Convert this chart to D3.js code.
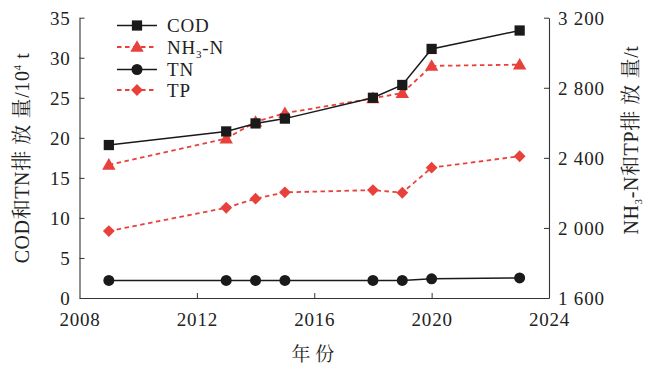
<!DOCTYPE html>
<html><head><meta charset="utf-8">
<script src="https://cdn.jsdelivr.net/npm/d3@7"></script>
<style>
html,body{margin:0;padding:0;background:#fff;}
svg text{font-family:'Liberation Serif','DejaVu Serif','Noto Serif CJK SC','Noto Sans CJK SC',serif !important;fill:#222;}
</style></head>
<body><svg id="c" width="651" height="367"></svg>
<script>
const years = [2009, 2013, 2014, 2015, 2018, 2019, 2020, 2023];
const cod = [19.1, 20.8, 21.8, 22.4, 25.0, 26.6, 31.1, 33.4];
const tn = [2.2, 2.2, 2.2, 2.2, 2.2, 2.2, 2.4, 2.5];
const nh3n = [2360, 2510, 2605, 2655, 2740, 2770, 2925, 2932];
const tp = [1982, 2115, 2167, 2203, 2216, 2201, 2344, 2409];
const xTicks = [2008, 2012, 2016, 2020, 2024];
const yLeftTicks = [0, 5, 10, 15, 20, 25, 30, 35];
const yRightTicks = [1600, 2000, 2400, 2800, 3200];
const yRightLabels = ["1 600", "2 000", "2 400", "2 800", "3 200"];

const svg = d3.select("#c");
const L = 79.5, R = 549, T = 17.7, B = 298;
const x = d3.scaleLinear().domain([2008, 2024]).range([L, R]);
const yL = d3.scaleLinear().domain([0, 35]).range([B, T]);
const yR = d3.scaleLinear().domain([1600, 3200]).range([B, T]);
const red = "#e8413c", blk = "#1a1a1a", axc = "#333";
const fs = 19;

// axes
const gx = svg.append("g").attr("transform", `translate(0,${B})`)
  .call(d3.axisBottom(x).tickValues(xTicks).tickFormat(d3.format("d")).tickSizeInner(-5).tickSizeOuter(0).tickPadding(15));
const gl = svg.append("g").attr("transform", `translate(${L},0)`)
  .call(d3.axisLeft(yL).tickValues(yLeftTicks).tickSizeInner(-5).tickSizeOuter(0).tickPadding(9));
const gr = svg.append("g").attr("transform", `translate(${R},0)`)
  .call(d3.axisRight(yR).tickValues(yRightTicks).tickFormat((d,i)=>yRightLabels[i]).tickSizeInner(-5).tickSizeOuter(0).tickPadding(9));
[gx, gl, gr].forEach(g => {
  g.attr("font-family", null);
  g.select(".domain").attr("stroke", axc).attr("stroke-width", 1.1);
  g.selectAll(".tick line").attr("stroke", axc).attr("stroke-width", 1);
  g.selectAll(".tick text").attr("font-size", fs).attr("fill", "#222")
    .style("letter-spacing", "0.8px");
});
gx.selectAll(".tick").filter(d => d === 2008 || d === 2024).select("line").remove();
gl.selectAll(".tick text").attr("dy", "0.36em");
gr.selectAll(".tick text").attr("dy", "0.36em");

// lines
function series(vals, ys, color, dashed, marker) {
  const pts = years.map((yr, i) => [x(yr), ys(vals[i])]);
  svg.append("path").attr("d", d3.line()(pts)).attr("fill", "none")
    .attr("stroke", color).attr("stroke-width", dashed ? 1.8 : 1.5)
    .attr("stroke-dasharray", dashed ? "4.5,3.5" : null);
  pts.forEach(p => drawMarker(marker, p[0], p[1], color));
}
function drawMarker(type, cx, cy, color) {
  const sizes = {square: 105, triangle: 78, circle: 95, diamond: 70};
  const sym = {square: d3.symbolSquare, triangle: d3.symbolTriangle, circle: d3.symbolCircle, diamond: d3.symbolSquare}[type];
  const dy = type === "triangle" ? 1 : 0;
  const rot = type === "diamond" ? " rotate(45)" : "";
  svg.append("path").attr("d", d3.symbol(sym, sizes[type])())
    .attr("transform", `translate(${cx},${cy + dy})${rot}`).attr("fill", color);
}
series(tp, yR, red, true, "diamond");
series(tn, yL, blk, false, "circle");
series(nh3n, yR, red, true, "triangle");
series(cod, yL, blk, false, "square");

// legend
const legend = [
  {name: "COD", color: blk, dashed: false, marker: "square", y: 25.5},
  {name: "NH3-N", color: red, dashed: true, marker: "triangle", y: 47},
  {name: "TN", color: blk, dashed: false, marker: "circle", y: 69.5},
  {name: "TP", color: red, dashed: true, marker: "diamond", y: 90},
];
legend.forEach(l => {
  svg.append("line").attr("x1", 117).attr("x2", 157).attr("y1", l.y).attr("y2", l.y)
    .attr("stroke", l.color).attr("stroke-width", l.dashed ? 1.8 : 1.5)
    .attr("stroke-dasharray", l.dashed ? "4.5,3.5" : null);
  drawMarker(l.marker, 137, l.y, l.color);
  const t = svg.append("text").attr("x", 167).attr("y", l.y + 6.5).attr("font-size", fs).style("letter-spacing", "0.8px");
  if (l.name === "NH3-N") {
    t.append("tspan").text("NH");
    t.append("tspan").text("3").attr("font-size", 11).attr("dy", 4);
    t.append("tspan").text("-N").attr("dy", -4);
  } else t.text(l.name);
});

// axis titles
const lt = svg.append("text").attr("transform", "translate(29,158) rotate(-90)")
  .attr("text-anchor", "middle").attr("font-size", 20).style("letter-spacing", "0.6px");
lt.append("tspan").text("COD和TN排 放 量/10");
lt.append("tspan").text("4").attr("font-size", 11).attr("dy", -8);
lt.append("tspan").text(" t").attr("dy", 8);

const rt = svg.append("text").attr("transform", "translate(638,140) rotate(-90)")
  .attr("text-anchor", "middle").attr("font-size", 20).style("letter-spacing", "0.6px");
rt.append("tspan").text("NH");
rt.append("tspan").text("3").attr("font-size", 11).attr("dy", 4);
rt.append("tspan").text("-N和TP排 放 量/t").attr("dy", -4);

svg.append("text").attr("x", 313).attr("y", 361).attr("text-anchor", "middle")
  .attr("font-size", 19).text("年 份");
</script></body></html>
